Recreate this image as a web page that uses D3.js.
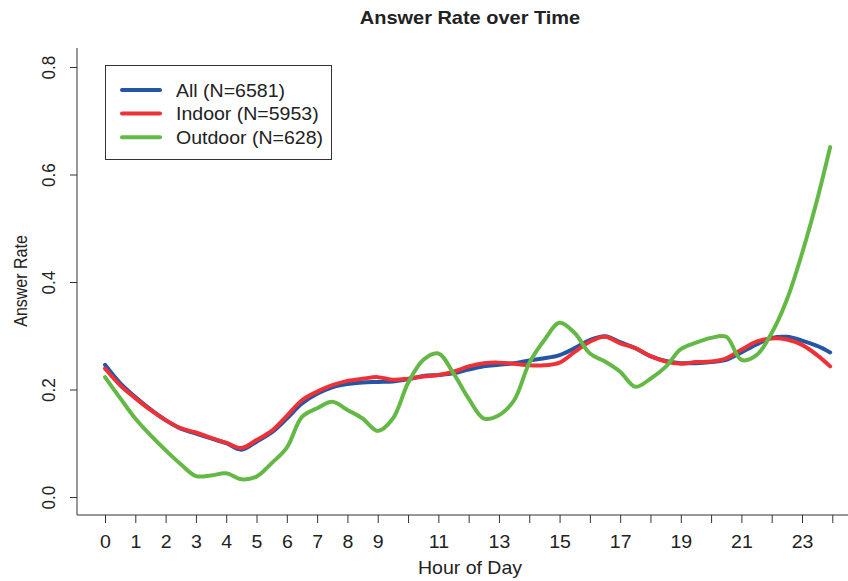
<!DOCTYPE html>
<html>
<head>
<meta charset="utf-8">
<script src="https://cdn.jsdelivr.net/npm/d3@7"></script>
<style>
  body { margin: 0; background: #fff; }
  text { font-family: "Liberation Sans", Arial, Helvetica, sans-serif; fill: #222; }
</style>
</head>
<body>
<svg width="848" height="581"></svg>
<script>
// hours sampled every half hour, last point just before 24
var hours = [0,0.5,1,1.5,2,2.5,3,3.5,4,4.5,5,5.5,6,6.5,7,7.5,8,8.5,9,9.5,10,10.5,11,11.5,
             12,12.5,13,13.5,14,14.5,15,15.5,16,16.5,17,17.5,18,18.5,19,19.5,20,20.5,21,21.5,
             22,22.5,23,23.5,23.93];

var allRate = [0.246,0.212,0.186,0.163,0.143,0.127,0.118,0.109,0.100,0.088,0.103,0.120,0.146,0.174,
               0.192,0.204,0.210,0.213,0.214,0.215,0.219,0.225,0.227,0.230,0.237,0.243,0.246,0.249,
               0.254,0.258,0.264,0.277,0.292,0.299,0.288,0.277,0.262,0.253,0.249,0.249,0.251,0.255,
               0.269,0.284,0.296,0.298,0.291,0.281,0.269];

var indoorRate = [0.239,0.208,0.184,0.162,0.143,0.128,0.120,0.110,0.101,0.091,0.106,0.123,0.151,0.180,
                  0.196,0.208,0.216,0.220,0.223,0.218,0.220,0.224,0.227,0.233,0.243,0.249,0.250,0.248,
                  0.245,0.245,0.250,0.270,0.289,0.298,0.286,0.277,0.262,0.252,0.248,0.251,0.252,0.258,
                  0.274,0.289,0.295,0.293,0.283,0.264,0.243];

var outdoorRate = [0.223,0.184,0.146,0.115,0.087,0.061,0.039,0.040,0.044,0.033,0.038,0.063,0.092,0.149,
                   0.165,0.177,0.162,0.146,0.123,0.146,0.212,0.255,0.267,0.230,0.183,0.146,0.152,0.180,
                   0.249,0.292,0.324,0.305,0.267,0.252,0.233,0.205,0.220,0.242,0.275,0.287,0.296,0.298,
                   0.255,0.264,0.305,0.367,0.453,0.553,0.651];

var seriesNames = ['All (N=6581)','Indoor (N=5953)','Outdoor (N=628)'];
var seriesColors = ['#2456a5','#ec3237','#64b946'];
var xTicks = d3.range(0,25);
var xTickLabels = [0,1,2,3,4,5,6,7,8,9,11,13,15,17,19,21,23];
var yTicks = [0,0.2,0.4,0.6,0.8];

var svg = d3.select('svg');

var plot = {left:77, right:848, top:48, bottom:515};
var fs = 18;          // glyph height of the reference text
var stretch = 1.085;  // horizontal text is a little wide at that size

var x = d3.scaleLinear().domain([0,23]).range([105,802]);
var y = d3.scaleLinear().domain([0,0.8]).range([497,67]);

// title
svg.append('text')
	.attr('transform','translate(470,24) scale(1.11,1)')
	.attr('text-anchor','middle')
	.style('font-size','18px').style('font-weight','bold')
	.text('Answer Rate over Time');

// L shaped box
svg.append('path')
	.attr('d','M'+plot.left+','+plot.top+'V'+plot.bottom+'H'+plot.right)
	.attr('fill','none').attr('stroke','#333').attr('stroke-width',1);

// x axis
var xAxis = svg.append('g').attr('transform','translate(0,'+plot.bottom+')')
	.call(d3.axisBottom(x).tickValues(xTicks).tickSize(8).tickFormat(function(d){
		return xTickLabels.indexOf(d) >= 0 ? d : '';
	}));
xAxis.select('.domain').remove();
xAxis.selectAll('line').attr('stroke','#333');
xAxis.selectAll('text').attr('y',0).attr('dy','0.71em')
	.attr('transform','translate(0,20) scale('+stretch+',1)')
	.style('font-size',fs+'px').style('font-family','"Liberation Sans", Arial, sans-serif').attr('fill','#222');

// y axis
var yAxis = svg.append('g').attr('transform','translate('+plot.left+',0)')
	.call(d3.axisLeft(y).tickValues(yTicks).tickSize(7).tickFormat(d3.format('.1f')));
yAxis.select('.domain').remove();
yAxis.selectAll('line').attr('stroke','#333');
yAxis.selectAll('text')
	.attr('x',null).attr('dy',null)
	.attr('text-anchor','middle')
	.attr('transform','translate(-22,0) rotate(-90) scale(0.95,1)')
	.style('font-size',fs+'px').style('font-family','"Liberation Sans", Arial, sans-serif').attr('fill','#222');

// axis titles
svg.append('text')
	.attr('transform','translate(470,574) scale('+stretch+',1)')
	.attr('text-anchor','middle')
	.style('font-size',fs+'px')
	.text('Hour of Day');

svg.append('text')
	.attr('transform','translate(27,281) rotate(-90) scale(0.89,1)')
	.attr('text-anchor','middle')
	.style('font-size',fs+'px')
	.text('Answer Rate');

// lines
var line = d3.line()
	.x(function(d){ return x(d[0]); })
	.y(function(d){ return y(d[1]); })
	.curve(d3.curveCatmullRom.alpha(0.5));

[allRate, indoorRate, outdoorRate].forEach(function(vals,i){
	svg.append('path')
		.datum(hours.map(function(h,j){ return [h, vals[j]]; }))
		.attr('d',line)
		.attr('fill','none')
		.attr('stroke',seriesColors[i])
		.attr('stroke-width',4)
		.attr('stroke-linecap','round')
		.attr('stroke-linejoin','round');
});

// legend
var legend = svg.append('g');
legend.append('rect')
	.attr('x',105.5).attr('y',65.5).attr('width',226).attr('height',94)
	.attr('fill','#fff').attr('stroke','#333').attr('stroke-width',1);

seriesNames.forEach(function(name,i){
	var ry = 90 + i*23.6;
	legend.append('line')
		.attr('x1',122).attr('x2',160).attr('y1',ry).attr('y2',ry)
		.attr('stroke',seriesColors[i]).attr('stroke-width',4).attr('stroke-linecap','round');
	legend.append('text')
		.attr('transform','translate(176,'+(ry+6.5)+') scale('+stretch+',1)')
		.style('font-size',fs+'px')
		.text(name);
});
</script>
</body>
</html>
